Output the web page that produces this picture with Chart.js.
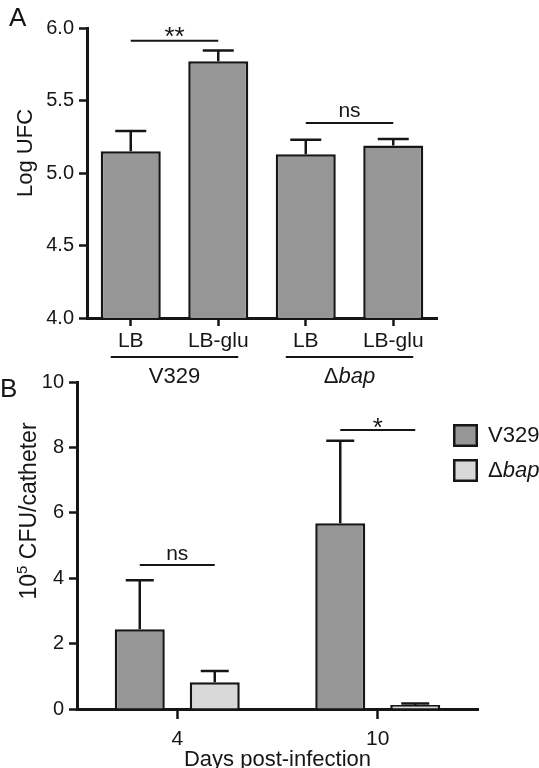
<!DOCTYPE html>
<html><head><meta charset="utf-8">
<script src="https://cdn.jsdelivr.net/npm/chart.js@4.4.1/dist/chart.umd.min.js"></script>
<style>
html,body{margin:0;padding:0;background:#fff;}
#wrap{position:relative;width:539px;height:768px;overflow:hidden;background:#fff;}
canvas{position:absolute;left:0;top:0;}
</style></head><body>
<div id="wrap"><canvas id="cA" width="539" height="768"></canvas><canvas id="cB" width="539" height="768"></canvas></div>
<script>
// ---------- Panel A data ----------
const conditionsA = ['LB', 'LB-glu', 'LB', 'LB-glu'];
const strainGroupsA = ['V329', 'Δbap'];
const groupSpansA = [[0, 1], [2, 3]];
const logUFC = [5.15, 5.77, 5.13, 5.19];
const logUFCErr = [0.14, 0.075, 0.10, 0.045];
const yTicksA = [4.0, 4.5, 5.0, 5.5, 6.0];
const sigPairsA = [[0, 1], [2, 3]];
const sigLevelsA = [5.912, 5.345];
const sigTextA = ['**', 'ns'];

// ---------- Panel B data ----------
const days = ['4', '10'];
const seriesB = ['V329', 'Δbap'];
const cfuV329 = [2.44, 5.68];
const cfuV329Err = [1.5, 2.52];
const cfuBap = [0.82, 0.12];
const cfuBapErr = [0.34, 0.05];
const yTicksB = [0, 2, 4, 6, 8, 10];
const sigDaysB = [0, 1];
const sigLevelsB = [4.40, 8.53];
const sigTextB = ['ns', '*'];

const FONT = '"Liberation Sans", Arial, Helvetica, sans-serif';
const INK = '#161616';
const DARK = '#969696';
const LIGHT = '#d9d9d9';

function parts(label) {
  return label.startsWith('Δ') ? [['Δ', false], [label.slice(1), true]] : [[label, false]];
}
function drawRich(ctx, label, x, y, size, align) {
  const p = parts(label);
  const w = p.map(([t, it]) => { ctx.font = (it ? 'italic ' : '') + size + 'px ' + FONT; return ctx.measureText(t).width; });
  const total = w.reduce((a, b) => a + b, 0);
  let cx = align === 'center' ? x - total / 2 : (align === 'right' ? x - total : x);
  ctx.textAlign = 'left';
  p.forEach(([t, it], i) => { ctx.font = (it ? 'italic ' : '') + size + 'px ' + FONT; ctx.fillText(t, cx, y); cx += w[i]; });
}
function errBar(ctx, x, yBase, yTop, cap) {
  ctx.beginPath();
  ctx.moveTo(x, yBase); ctx.lineTo(x, yTop);
  ctx.moveTo(x - cap / 2, yTop); ctx.lineTo(x + cap / 2, yTop);
  ctx.stroke();
}
function sigLabel(ctx, text, x, yLine) {
  ctx.textAlign = 'center'; ctx.textBaseline = 'alphabetic';
  if (text.indexOf('*') >= 0) {
    ctx.font = '26px ' + FONT; ctx.fillText(text, x, yLine + 4);
  } else {
    ctx.font = '21px ' + FONT; ctx.fillText(text, x, yLine - 6);
  }
}

const axisCommon = {
  grid: { display: true, drawOnChartArea: false, drawTicks: true, tickLength: 8, tickWidth: 2.5, tickColor: INK, offset: false },
  border: { display: true, width: 3, color: INK },
};

// ---------- Panel A ----------
const pluginA = {
  id: 'panelA',
  afterDraw(chart) {
    const ctx = chart.ctx, xs = chart.scales.x, ys = chart.scales.y, area = chart.chartArea;
    ctx.save();
    ctx.strokeStyle = INK; ctx.fillStyle = INK; ctx.lineWidth = 2.5; ctx.lineCap = 'butt';
    const meta = chart.getDatasetMeta(0);
    meta.data.forEach((bar, i) => {
      errBar(ctx, bar.x, bar.y, ys.getPixelForValue(logUFC[i] + logUFCErr[i]), 31);
    });
    ctx.lineWidth = 2;
    sigPairsA.forEach((pr, i) => {
      const x0 = xs.getPixelForValue(pr[0]), x1 = xs.getPixelForValue(pr[1]);
      const y = ys.getPixelForValue(sigLevelsA[i]);
      ctx.beginPath(); ctx.moveTo(x0, y); ctx.lineTo(x1, y); ctx.stroke();
      sigLabel(ctx, sigTextA[i], (x0 + x1) / 2, y);
    });
    groupSpansA.forEach((sp, i) => {
      const x0 = xs.getPixelForValue(sp[0]) - 20, x1 = xs.getPixelForValue(sp[1]) + 20;
      const y = area.bottom + 39;
      ctx.beginPath(); ctx.moveTo(x0, y); ctx.lineTo(x1, y); ctx.stroke();
      ctx.textBaseline = 'alphabetic';
      drawRich(ctx, strainGroupsA[i], (x0 + x1) / 2, area.bottom + 65, 22, 'center');
    });
    // panel letter
    ctx.font = '26px ' + FONT; ctx.textAlign = 'left'; ctx.textBaseline = 'alphabetic';
    ctx.fillText('A', 9, 26);
    // y title
    ctx.translate(26, 153); ctx.rotate(-Math.PI / 2);
    ctx.font = '22px ' + FONT; ctx.textAlign = 'center'; ctx.textBaseline = 'middle';
    ctx.fillText('Log UFC', 0, 0);
    ctx.restore();
  }
};

new Chart(document.getElementById('cA'), {
  type: 'bar',
  data: {
    labels: conditionsA,
    datasets: [{
      label: 'Log UFC', data: logUFC,
      backgroundColor: DARK, borderColor: INK, borderWidth: 2.5,
      barPercentage: 0.686, categoryPercentage: 1.0
    }]
  },
  options: {
    responsive: false, animation: false, devicePixelRatio: 1,
    layout: { padding: { top: 28, left: 0, right: 102, bottom: 410 } },
    plugins: { legend: { display: false }, tooltip: { enabled: false } },
    scales: {
      x: Object.assign({}, axisCommon, {
        ticks: { color: INK, font: { family: FONT, size: 21 }, padding: 3, maxRotation: 0 },
        afterFit(s) { s.height = 40; }
      }),
      y: Object.assign({}, axisCommon, {
        min: 4, max: 6,
        afterBuildTicks(s) { s.ticks = yTicksA.map(v => ({ value: v })); },
        ticks: { color: INK, font: { family: FONT, size: 20 }, padding: 5, callback: v => v.toFixed(1) },
        afterFit(s) { s.width = 87; }
      })
    }
  },
  plugins: [pluginA]
});

// ---------- Panel B ----------
const pluginB = {
  id: 'panelB',
  afterDraw(chart) {
    const ctx = chart.ctx, ys = chart.scales.y, area = chart.chartArea;
    const vals = [cfuV329, cfuBap], errs = [cfuV329Err, cfuBapErr];
    ctx.save();
    ctx.strokeStyle = INK; ctx.fillStyle = INK; ctx.lineWidth = 2.5;
    [0, 1].forEach(d => {
      chart.getDatasetMeta(d).data.forEach((bar, i) => {
        errBar(ctx, bar.x, bar.y, ys.getPixelForValue(vals[d][i] + errs[d][i]), 28);
      });
    });
    ctx.lineWidth = 2;
    sigDaysB.forEach((c, i) => {
      const x0 = chart.getDatasetMeta(0).data[c].x, x1 = chart.getDatasetMeta(1).data[c].x;
      const y = ys.getPixelForValue(sigLevelsB[i]);
      ctx.beginPath(); ctx.moveTo(x0, y); ctx.lineTo(x1, y); ctx.stroke();
      sigLabel(ctx, sigTextB[i], (x0 + x1) / 2, y + (sigTextB[i] === 'ns' ? 1 : 2));
    });
    // legend
    chart.data.datasets.forEach((ds, i) => {
      const bx = 453, by = 424 + i * 35;
      ctx.fillStyle = ds.backgroundColor; ctx.fillRect(bx, by, 25, 23);
      ctx.lineWidth = 2.5; ctx.strokeStyle = INK; ctx.strokeRect(bx + 1.25, by + 1.25, 22.5, 20.5);
      ctx.fillStyle = INK; ctx.textBaseline = 'middle';
      drawRich(ctx, ds.label, 488, by + 12, 22, 'left');
    });
    // x title
    ctx.font = '22px ' + FONT; ctx.textAlign = 'center'; ctx.textBaseline = 'alphabetic';
    ctx.fillText('Days post-infection', (area.left + area.right) / 2, 766);
    // panel letter
    ctx.font = '26px ' + FONT; ctx.textAlign = 'left';
    ctx.fillText('B', 0, 397);
    // y title with superscript
    ctx.translate(30, 511); ctx.rotate(-Math.PI / 2);
    ctx.textBaseline = 'middle'; ctx.textAlign = 'left';
    const a = '10', b = '5', c = ' CFU/catheter';
    ctx.font = '23px ' + FONT; const wa = ctx.measureText(a).width, wc = ctx.measureText(c).width;
    ctx.font = '15px ' + FONT; const wb = ctx.measureText(b).width;
    let x = -(wa + wb + wc) / 2;
    ctx.font = '23px ' + FONT; ctx.fillText(a, x, 0); x += wa;
    ctx.font = '15px ' + FONT; ctx.fillText(b, x, -7); x += wb;
    ctx.font = '23px ' + FONT; ctx.fillText(c, x, 0);
    ctx.restore();
  }
};

new Chart(document.getElementById('cB'), {
  type: 'bar',
  data: {
    labels: days,
    datasets: [
      { label: seriesB[0], data: cfuV329, backgroundColor: DARK, borderColor: INK, borderWidth: 2.5, barPercentage: 0.667, categoryPercentage: 0.748 },
      { label: seriesB[1], data: cfuBap, backgroundColor: LIGHT, borderColor: INK, borderWidth: 2.5, barPercentage: 0.667, categoryPercentage: 0.748 }
    ]
  },
  options: {
    responsive: false, animation: false, devicePixelRatio: 1,
    layout: { padding: { top: 382, left: 0, right: 61, bottom: 19 } },
    plugins: { legend: { display: false }, tooltip: { enabled: false } },
    scales: {
      x: Object.assign({}, axisCommon, {
        grid: Object.assign({}, axisCommon.grid, { tickLength: 10 }),
        ticks: { color: INK, font: { family: FONT, size: 21 }, padding: 8, maxRotation: 0 },
        afterFit(s) { s.height = 40; }
      }),
      y: Object.assign({}, axisCommon, {
        min: 0, max: 10,
        afterBuildTicks(s) { s.ticks = yTicksB.map(v => ({ value: v })); },
        ticks: { color: INK, font: { family: FONT, size: 20 }, padding: 5 },
        afterFit(s) { s.width = 77; }
      })
    }
  },
  plugins: [pluginB]
});
</script>
</body></html>
